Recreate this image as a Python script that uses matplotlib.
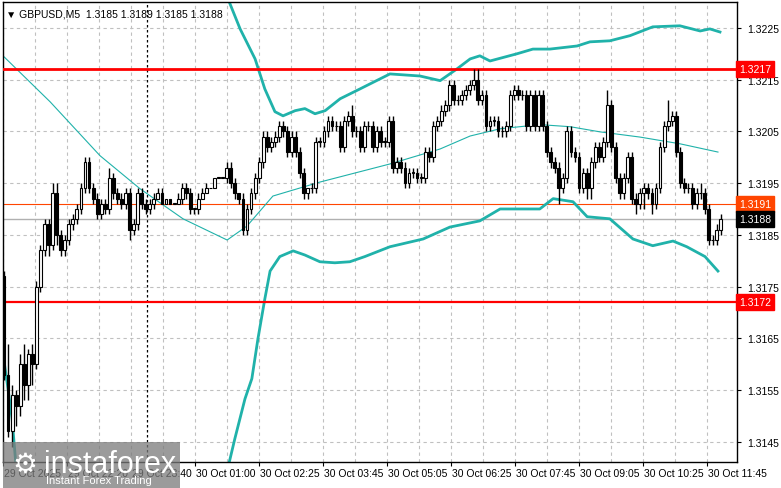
import numpy as np
import matplotlib
matplotlib.use("Agg")
import matplotlib.pyplot as plt
from matplotlib.patches import Rectangle

plt.rcParams["font.family"] = ["Liberation Sans", "DejaVu Sans"]

# =====================================
# Datos (GBPUSD M5)
# =====================================

closes = [
    1.3158, 1.3147, 1.3154, 1.3152, 1.3160, 1.3156, 1.3162, 1.3160, 1.3175, 1.3182,
    1.3187, 1.3183, 1.3193, 1.3185, 1.3182, 1.3184, 1.3187, 1.3188, 1.3190, 1.3194,
    1.3199, 1.3194, 1.3192, 1.3189, 1.3191, 1.3190, 1.3196, 1.3193, 1.3192, 1.3191,
    1.3193, 1.3186, 1.3187, 1.3193, 1.3191, 1.3190, 1.3191, 1.3192, 1.3193, 1.3191,
    1.3192, 1.3191, 1.3191, 1.3192, 1.3194, 1.3193, 1.3190, 1.3190, 1.3192, 1.3193,
    1.3194, 1.3194, 1.3196, 1.3196, 1.3196, 1.3198, 1.3195, 1.3193, 1.3192, 1.3186,
    1.3190, 1.3193, 1.3196, 1.3199, 1.3204, 1.3202, 1.3203, 1.3204, 1.3206, 1.3205,
    1.3201, 1.3204, 1.3201, 1.3197, 1.3193, 1.3194, 1.3194, 1.3203, 1.3203, 1.3205,
    1.3207, 1.3206, 1.3206, 1.3202, 1.3207, 1.3208, 1.3205, 1.3205, 1.3202, 1.3206,
    1.3206, 1.3202, 1.3205, 1.3203, 1.3203, 1.3207, 1.3198, 1.3199, 1.3198, 1.3195,
    1.3197, 1.3197, 1.3196, 1.3196, 1.3201, 1.3200, 1.3206, 1.3207, 1.3209, 1.3210,
    1.3214, 1.3211, 1.3211, 1.3212, 1.3213, 1.3214, 1.3215, 1.3211, 1.3212, 1.3206,
    1.3207, 1.3207, 1.3205, 1.3205, 1.3206, 1.3212, 1.3213, 1.3212, 1.3212, 1.3206,
    1.3212, 1.3206, 1.3212, 1.3206, 1.3201, 1.3199, 1.3198, 1.3194, 1.3196, 1.3205,
    1.3201, 1.3200, 1.3194, 1.3197, 1.3194, 1.3199, 1.3202, 1.3200, 1.3203, 1.3210,
    1.3202, 1.3196, 1.3193, 1.3196, 1.3200, 1.3192, 1.3191, 1.3193, 1.3194, 1.3193,
    1.3191, 1.3194, 1.3202, 1.3206, 1.3207, 1.3208, 1.3201, 1.3195, 1.3194, 1.3194,
    1.3191, 1.3193, 1.3193, 1.3190, 1.3184, 1.3184, 1.3186, 1.3188,
]
primer_open = 1.3177

# mechas en pips por encima / por debajo del cuerpo
mecha_sup = [
    1, 6, 2, 1, 2, 4, 1, 2, 1, 1,  1, 1, 2, 2, 1, 1, 1, 1, 1, 1,
    1, 1, 1, 1, 1, 1, 2, 1, 1, 1,  1, 1, 1, 1, 1, 1, 1, 1, 1, 1,
    0, 0, 0, 1, 1, 1, 1, 0, 1, 1,  1, 0, 0, 0, 0, 1, 1, 1, 0, 1,
    1, 1, 1, 1, 1, 1, 1, 1, 1, 1,  1, 1, 1, 1, 1, 0, 1, 1, 1, 1,
    1, 1, 1, 1, 1, 1, 2, 1, 1, 1,  1, 1, 1, 1, 1, 1, 1, 1, 1, 1,
    1, 1, 1, 1, 1, 1, 1, 1, 1, 1,  1, 1, 1, 1, 1, 1, 2, 2, 1, 1,
    1, 1, 1, 1, 1, 1, 1, 1, 1, 1,  1, 1, 1, 1, 1, 1, 1, 1, 1, 1,
    1, 1, 1, 1, 1, 1, 1, 1, 1, 3,  1, 1, 1, 1, 1, 1, 1, 1, 1, 1,
    1, 1, 1, 1, 4, 1, 1, 1, 1, 1,  1, 1, 2, 1, 1, 1, 1, 1,
]
mecha_inf = [
    1, 1, 3, 4, 2, 3, 3, 4, 1, 1,  1, 2, 1, 2, 1, 1, 1, 1, 1, 1,
    1, 1, 1, 1, 1, 1, 1, 1, 1, 1,  1, 2, 1, 1, 1, 1, 1, 1, 0, 0,
    0, 0, 0, 0, 1, 1, 1, 1, 1, 0,  0, 0, 0, 0, 0, 1, 1, 1, 1, 1,
    1, 1, 1, 1, 1, 1, 1, 1, 1, 1,  1, 1, 1, 1, 1, 1, 1, 1, 1, 1,
    1, 1, 1, 1, 1, 1, 1, 1, 1, 1,  1, 1, 1, 1, 1, 1, 1, 1, 1, 1,
    1, 1, 1, 1, 1, 1, 1, 1, 1, 1,  1, 1, 1, 1, 1, 1, 1, 1, 1, 1,
    1, 1, 1, 1, 1, 1, 1, 1, 1, 1,  1, 1, 1, 1, 1, 1, 1, 3, 1, 1,
    1, 1, 1, 1, 2, 2, 1, 1, 1, 1,  1, 1, 1, 1, 1, 1, 2, 1, 3, 1,
    2, 1, 1, 1, 1, 1, 1, 1, 1, 1,  1, 1, 1, 1, 1, 1, 1, 1,
]

# bandas (indice de vela, precio)
banda_sup_x = [54.8, 58.3, 62, 64.4, 66.9, 68.9, 71.9, 74.3, 76.8, 79.3, 83, 87.9, 95.3,
               102.7, 107.7, 111.9, 115.1, 117.5, 120, 126.7, 130.6, 134.8, 141.5, 144.7,
               149.6, 154.6, 160.2, 166.9, 171.9, 174.3, 176.8]
banda_sup_y = [1.32316, 1.32248, 1.32190, 1.32132, 1.32088, 1.32080, 1.32090, 1.32094,
               1.32084, 1.32090, 1.32113, 1.32132, 1.32161, 1.32157, 1.32148, 1.32171,
               1.32190, 1.32196, 1.32186, 1.32200, 1.32209, 1.32209, 1.32215, 1.32223,
               1.32225, 1.32235, 1.32252, 1.32254, 1.32244, 1.32248, 1.32242]

banda_inf_izq_x = [-0.25, 1, 2, 3]
banda_inf_izq_y = [1.31620, 1.31552, 1.31494, 1.31400]
banda_inf_x = [55.3, 57, 59.5, 61.2, 62.7, 64.4, 65.7, 68.1, 71.4, 74.3, 78, 81.7, 85.4,
               89.1, 95.3, 103.5, 110.1, 117.5, 122.5, 132.3, 135.6, 140.5, 144, 149.6,
               155.3, 160.2, 165.2, 168.6, 173.1, 176.3]
banda_inf_y = [1.31400, 1.31456, 1.31533, 1.31572, 1.31649, 1.31726, 1.31780, 1.31808,
               1.31819, 1.31811, 1.31798, 1.31796, 1.31798, 1.31808, 1.31827, 1.31842,
               1.31865, 1.31877, 1.31900, 1.31900, 1.31920, 1.31914, 1.31885, 1.31881,
               1.31842, 1.31829, 1.31838, 1.31827, 1.31808, 1.31780]

media_x = [-0.25, 11.4, 23.7, 33.6, 44.2, 55.1, 60, 66.4, 78, 95.3, 107.7, 115.1, 122.5,
           132.3, 139.8, 147.2, 157, 166.9, 176.3]
media_y = [1.32196, 1.32107, 1.32003, 1.31939, 1.31881, 1.31840, 1.31867, 1.31925,
           1.31952, 1.31987, 1.32016, 1.32041, 1.32055, 1.32063, 1.32059, 1.32049,
           1.32039, 1.32026, 1.32010]

niveles_y = [1.3225, 1.3215, 1.3205, 1.3195, 1.3185, 1.3175, 1.3165, 1.3155, 1.3145]
etiquetas_x = ["29 Oct 2025", "29 Oct 22:20", "29 Oct 23:40", "30 Oct 01:00",
               "30 Oct 02:25", "30 Oct 03:45", "30 Oct 05:05", "30 Oct 06:25",
               "30 Oct 07:45", "30 Oct 09:05", "30 Oct 10:25", "30 Oct 11:45"]
pos_etiquetas = [-0.25, 15.55, 31.35, 47.15, 62.95, 78.75, 94.55, 110.35,
                 126.15, 141.95, 157.75, 173.55]

resist = 1.3217
soporte = 1.3172
nivel_naranja = 1.3191
precio_actual = 1.3188

# =====================================
# Grafico
# =====================================

W, H = 781, 489
fig = plt.figure(figsize=(W / 100, H / 100), dpi=100)
fig.patch.set_facecolor("white")
ax = fig.add_axes([3 / W, 26 / H, 734 / W, 460 / H])
ax.set_xlim(-0.25, 181)
ax.set_ylim(1.31411, 1.32300)

# rejilla
for g in np.arange(-0.25, 181, 7.9):
    ax.axvline(g, color="#c0c0c0", ls=(0, (3, 3)), lw=0.8, zorder=0)
for n in niveles_y:
    ax.axhline(n, color="#c0c0c0", ls=(0, (3, 3)), lw=0.8, zorder=0)
ax.axvline(35.3, color="black", ls=(0, (2, 2)), lw=0.9, zorder=1)

# lineas horizontales
ax.axhline(resist, color="#ff0000", lw=2, zorder=3)
ax.axhline(soporte, color="#ff0000", lw=1.6, zorder=3)
ax.axhline(nivel_naranja, color="#ff4500", lw=0.8, zorder=1)
ax.axhline(precio_actual, color="#b0b0b0", lw=1, zorder=1)

# bandas
teal = "#20b2aa"
ax.plot(banda_sup_x, banda_sup_y, color=teal, lw=2, zorder=2)
ax.plot(banda_inf_x, banda_inf_y, color=teal, lw=2, zorder=2)
ax.plot(banda_inf_izq_x, banda_inf_izq_y, color=teal, lw=2, zorder=2)
ax.plot(media_x, media_y, color=teal, lw=0.8, zorder=2)

# velas
opens = [primer_open] + closes[:-1]
for i, (o, c) in enumerate(zip(opens, closes)):
    top, bot = max(o, c), min(o, c)
    hi = top + mecha_sup[i] * 0.0001
    lo = bot - mecha_inf[i] * 0.0001
    ax.vlines(i, lo, hi, color="black", lw=1, zorder=4)
    alto = max(top - bot, 0.00001)
    color = "white" if c >= o else "black"
    ax.add_patch(Rectangle((i - 0.35, bot), 0.7, alto, facecolor=color,
                           edgecolor="black", lw=0.8, zorder=5))

# ejes
ax.yaxis.tick_right()
ax.set_yticks(niveles_y)
ax.set_yticklabels([f"{n:.4f}" for n in niveles_y], fontsize=7.5)
ax.tick_params(axis="y", length=3, pad=4)
ax.set_xticks(pos_etiquetas)
ax.set_xticklabels([])
ax.tick_params(axis="x", length=3)
for p, t in zip(pos_etiquetas, etiquetas_x):
    ax.text(p + 0.3, -0.012, t, transform=ax.get_xaxis_transform(), fontsize=7.5,
            ha="left", va="top")
for s in ax.spines.values():
    s.set_color("black")
    s.set_linewidth(1)

# etiquetas de precio
for val, bg in [(resist, "#ff0000"), (soporte, "#ff0000"),
                (nivel_naranja, "#ff4500"), (precio_actual, "black")]:
    ax.text(1.003, val, f"{val:.4f}", transform=ax.get_yaxis_transform(),
            fontsize=7.5, color="white", va="center", ha="left", zorder=10,
            bbox=dict(boxstyle="square,pad=0.3", fc=bg, ec=bg))

ax.text(0.004, 0.985, "\u25bc GBPUSD,M5  1.3185 1.3189 1.3185 1.3188",
        transform=ax.transAxes, fontsize=7.5, va="top", ha="left")

# marca de agua
fig.patches.append(Rectangle((3 / W, 0), 177 / W, 46 / H, transform=fig.transFigure,
                             facecolor="#7a7a7a", alpha=0.75, zorder=20))
fig.text(12 / W, 24 / H, "\u2699", fontsize=20, color="white", zorder=21, va="center",
         family="DejaVu Sans")
fig.text(44 / W, 24 / H, "instaforex", fontsize=22, color="white", zorder=21,
         va="center")
fig.text(46 / W, 8 / H, "Instant Forex Trading", fontsize=8, color="white",
         zorder=21, va="center")

fig.savefig("out.png", dpi=100)
